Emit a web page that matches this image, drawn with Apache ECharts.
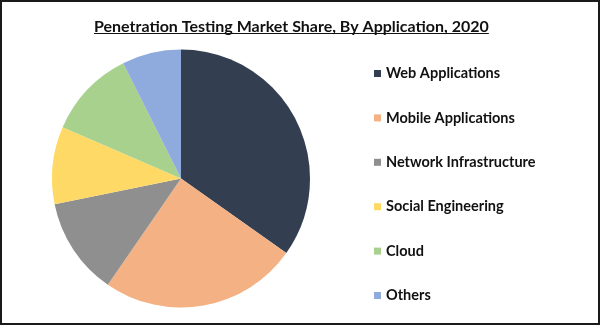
<!DOCTYPE html>
<html>
<head>
<meta charset="utf-8">
<script src="https://cdn.jsdelivr.net/npm/echarts@6/dist/echarts.min.js"></script>
<style>
  html, body { margin: 0; padding: 0; background: #fff; }
  #chart { width: 600px; height: 325px; box-sizing: border-box; border: 2px solid #1a1a1a; }
</style>
</head>
<body>
<div id="chart"></div>
<script>
// Market share by application segment, 2020 (%)
const categories = ['Web Applications', 'Mobile Applications', 'Network Infrastructure', 'Social Engineering', 'Cloud', 'Others'];
const shares = [34.8, 24.8, 12.2, 9.7, 11.1, 7.4];
const colors = ['#333F50', '#F4B183', '#8F8F8F', '#FFD966', '#A9D18E', '#8FAADC'];
const titleText = 'Penetration Testing Market Share, By Application, 2020';

const FONT = 'Lato';
const titleFont = 'bold 16px ' + FONT;

// measure title width so the underline spans it exactly
const ctx = document.createElement('canvas').getContext('2d');
ctx.font = titleFont;
const titleW = ctx.measureText(titleText).width;
const titleCx = 289.5;
const titleX = Math.round(titleCx - titleW / 2);

const chart = echarts.init(document.getElementById('chart'));
chart.setOption({
  animation: false,
  color: colors,
  graphic: [
    {
      type: 'text', left: titleX, top: 17,
      style: { text: titleText, font: titleFont, fill: '#111' }
    },
    {
      type: 'line',
      shape: { x1: titleX, y1: 31.5, x2: titleX + titleW, y2: 31.5 },
      style: { stroke: '#111', lineWidth: 1 }
    }
  ],
  legend: {
    orient: 'vertical',
    left: 367,
    top: 59,
    icon: 'rect',
    itemWidth: 7,
    itemHeight: 7,
    itemGap: 29.4,
    textStyle: { fontFamily: FONT, fontWeight: 'bold', fontSize: 14.5, color: '#111' },
    data: categories
  },
  series: [{
    type: 'pie',
    center: [179, 176.5],
    radius: 129,
    startAngle: 90,
    clockwise: true,
    label: { show: false },
    labelLine: { show: false },
    itemStyle: { borderWidth: 0 },
    data: categories.map((c, i) => ({ name: c, value: shares[i] }))
  }]
});
</script>
</body>
</html>
